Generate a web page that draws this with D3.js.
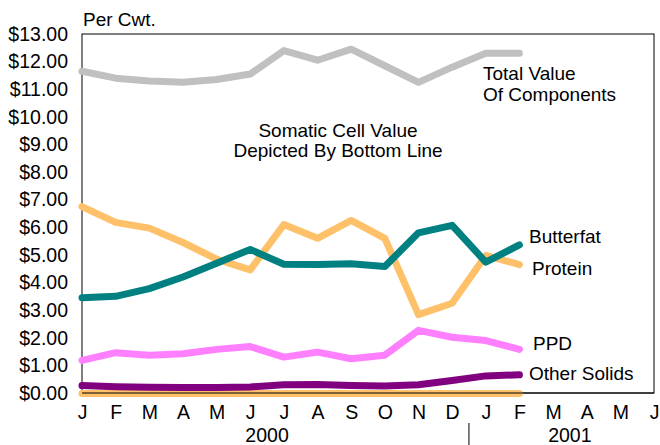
<!DOCTYPE html>
<html>
<head>
<meta charset="utf-8">
<script src="https://cdn.jsdelivr.net/npm/d3@7"></script>
<style>
  body { margin: 0; background: #fff; }
  text { font-family: "Liberation Sans", Arial, sans-serif; fill: #000; }
</style>
</head>
<body>
<div id="chart"></div>
<script>
var width = 660, height = 445;

// month axis, Jan 2000 .. Jun 2001
var months = ["J","F","M","A","M","J","J","A","S","O","N","D","J","F","M","A","M","J"];
var years = [{ label: "2000", at: 5.5 }, { label: "2001", at: 14.5 }];

// per cwt, Jan 2000 .. Feb 2001
var totalValue  = [11.65, 11.4, 11.3, 11.25, 11.35, 11.55, 12.4, 12.05, 12.45, 11.85, 11.25, 11.8, 12.3, 12.3];
var protein     = [6.75, 6.18, 5.97, 5.45, 4.85, 4.46, 6.1, 5.6, 6.25, 5.6, 2.84, 3.25, 4.98, 4.65];
var butterfat   = [3.45, 3.5, 3.78, 4.2, 4.7, 5.2, 4.66, 4.65, 4.68, 4.58, 5.8, 6.07, 4.74, 5.36];
var ppd         = [1.18, 1.46, 1.37, 1.42, 1.58, 1.68, 1.3, 1.48, 1.24, 1.37, 2.27, 2.02, 1.9, 1.58];
var otherSolids = [0.27, 0.23, 0.21, 0.2, 0.2, 0.22, 0.3, 0.31, 0.27, 0.25, 0.3, 0.45, 0.62, 0.66];
var somatic     = [-0.02, -0.02, -0.02, -0.02, -0.02, -0.02, -0.02, -0.02, -0.02, -0.02, -0.02, -0.02, -0.02, -0.02];

var yTicks = d3.range(0, 14);

var x = d3.scaleLinear().domain([0, 17]).range([82, 654]);
var y = d3.scaleLinear().domain([0, 13]).range([393, 34]);

var svg = d3.select("#chart").append("svg")
    .attr("width", width)
    .attr("height", height);

// frame
svg.append("rect")
    .attr("x", x(0)).attr("y", y(13))
    .attr("width", x(17) - x(0)).attr("height", y(0) - y(13))
    .attr("fill", "none").attr("stroke", "#000").attr("stroke-width", 1);

var line = d3.line()
    .x(function (d, i) { return x(i); })
    .y(function (d) { return y(d); });

var series = [
    { name: "somatic", values: somatic, color: "#FFC06A" },
    { name: "total", values: totalValue, color: "#C0C0C0" },
    { name: "protein", values: protein, color: "#FFC06A" },
    { name: "butterfat", values: butterfat, color: "#008080" },
    { name: "ppd", values: ppd, color: "#FF80FF" },
    { name: "other", values: otherSolids, color: "#800080" }
];

svg.selectAll(".series")
    .data(series)
    .enter().append("path")
    .attr("class", "series")
    .attr("d", function (d) { return line(d.values); })
    .attr("fill", "none")
    .attr("stroke", function (d) { return d.color; })
    .attr("stroke-width", 7)
    .attr("stroke-linecap", "round")
    .attr("stroke-linejoin", "round");

// baseline on top of the bottom line
svg.append("line")
    .attr("x1", x(0)).attr("x2", x(17))
    .attr("y1", y(0)).attr("y2", y(0))
    .attr("stroke", "#000").attr("stroke-width", 1);

// y axis labels
var yAxis = d3.axisLeft(y)
    .tickValues(yTicks)
    .tickSize(0)
    .tickPadding(14)
    .tickFormat(d3.format("$.2f"));

var gy = svg.append("g")
    .attr("transform", "translate(" + x(0) + ",0)")
    .call(yAxis);
gy.select(".domain").remove();
gy.selectAll("text")
    .attr("font-family", "Liberation Sans, Arial, sans-serif")
    .attr("font-size", 19.5).attr("fill", "#000");

// month labels
var xAxis = d3.axisBottom(x)
    .tickValues(d3.range(months.length))
    .tickSize(0)
    .tickPadding(12)
    .tickFormat(function (d) { return months[d]; });

var gx = svg.append("g")
    .attr("transform", "translate(0," + y(0) + ")")
    .call(xAxis);
gx.select(".domain").remove();
gx.selectAll("text")
    .attr("font-family", "Liberation Sans, Arial, sans-serif")
    .attr("font-size", 19.5).attr("fill", "#000");

// year labels and separator
svg.selectAll(".year")
    .data(years)
    .enter().append("text")
    .attr("class", "year")
    .attr("x", function (d) { return x(d.at); })
    .attr("y", 442)
    .attr("text-anchor", "middle")
    .attr("font-size", 19.5)
    .text(function (d) { return d.label; });

svg.append("line")
    .attr("x1", x(11.5)).attr("x2", x(11.5))
    .attr("y1", 423).attr("y2", 445)
    .attr("stroke", "#000").attr("stroke-width", 1);

// titles and labels
svg.append("text").attr("x", 83).attr("y", 26).attr("font-size", 19).text("Per Cwt.");

var notes = [
    { t: "Somatic Cell Value", x: 338, y: 137, anchor: "middle" },
    { t: "Depicted By Bottom Line", x: 338, y: 157, anchor: "middle" },
    { t: "Total Value", x: 483, y: 80, anchor: "start" },
    { t: "Of Components", x: 483, y: 101, anchor: "start" },
    { t: "Butterfat", x: 529, y: 243, anchor: "start" },
    { t: "Protein", x: 532, y: 275, anchor: "start" },
    { t: "PPD", x: 533, y: 350, anchor: "start" },
    { t: "Other Solids", x: 529, y: 380, anchor: "start" }
];

svg.selectAll(".note")
    .data(notes)
    .enter().append("text")
    .attr("class", "note")
    .attr("x", function (d) { return d.x; })
    .attr("y", function (d) { return d.y; })
    .attr("text-anchor", function (d) { return d.anchor; })
    .attr("font-size", 19)
    .text(function (d) { return d.t; });
</script>
</body>
</html>
